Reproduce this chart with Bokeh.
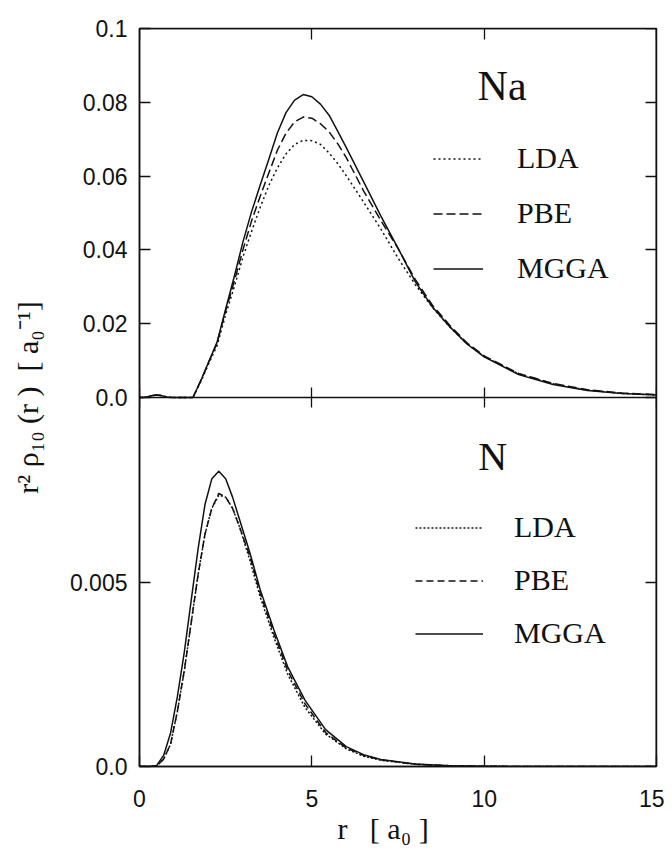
import numpy as np
from bokeh.plotting import figure
from bokeh.models import (Range1d, LinearAxis, FixedTicker, Legend, LegendItem,
                          Label, CustomJSTickFormatter)
from bokeh.embed import file_html
from bokeh.resources import INLINE

# ---------------- data ----------------
# Na panel: r^2 rho_10(r)
r_na = [0, 0.2, 0.35, 0.5, 0.65, 0.8, 1.0, 1.3, 1.55, 1.8, 2.0, 2.25, 2.5, 2.75,
        3.0, 3.25, 3.5, 3.75, 4.0, 4.25, 4.5, 4.75, 5.0, 5.25, 5.5, 5.75, 6.0,
        6.5, 7.0, 7.5, 8.0, 8.5, 9.0, 9.5, 10, 11, 12, 13, 14, 15]
na_mgga = [0, 0.0001, 0.0005, 0.0007, 0.0005, 0.0001, 0, 0, 0,
           0.0050, 0.0095, 0.0150, 0.0240, 0.0328, 0.0421, 0.0503, 0.0575, 0.0645, 0.0717,
           0.0772, 0.0806, 0.0821, 0.0815, 0.0795, 0.0765, 0.0722, 0.0677,
           0.0585, 0.0492, 0.0405, 0.0314, 0.0245, 0.0192, 0.0145, 0.0110,
           0.0062, 0.0035, 0.0019, 0.0011, 0.0007]
na_pbe = [0, 0.0001, 0.0005, 0.0007, 0.0005, 0.0001, 0, 0, 0,
          0.0050, 0.0094, 0.0147, 0.0235, 0.0315, 0.0400, 0.0478, 0.0545, 0.0608, 0.0670,
          0.0716, 0.0747, 0.0760, 0.0757, 0.0742, 0.0720, 0.0688, 0.0650,
          0.0560, 0.0480, 0.0404, 0.0320, 0.0250, 0.0196, 0.0148, 0.0113,
          0.0065, 0.0038, 0.0021, 0.0012, 0.0008]
na_lda = [0, 0.0001, 0.0005, 0.0007, 0.0005, 0.0001, 0, 0, 0,
          0.0047, 0.0090, 0.0140, 0.0225, 0.0300, 0.0380, 0.0450, 0.0515, 0.0574, 0.0622,
          0.0660, 0.0686, 0.0697, 0.0696, 0.0686, 0.0663, 0.0634, 0.0601,
          0.0530, 0.0457, 0.0378, 0.0306, 0.0244, 0.0191, 0.0146, 0.0111,
          0.0064, 0.0037, 0.0020, 0.0011, 0.0007]

# N panel
r_n = [0, 0.3, 0.5, 0.7, 0.9, 1.1, 1.3, 1.5, 1.7, 1.9, 2.1, 2.3, 2.5, 2.7, 2.9,
       3.2, 3.5, 3.9, 4.3, 4.8, 5.4, 6.0, 6.5, 7.0, 8.0, 9.0, 10, 12, 15]
n_mgga = [0, 0, 0.00003, 0.0003, 0.0009, 0.0019, 0.0031, 0.0045, 0.0059, 0.0071,
          0.0078, 0.0080, 0.0078, 0.0073, 0.0067, 0.0058, 0.0048, 0.0037, 0.0027,
          0.0018, 0.0010, 0.00054, 0.00032, 0.00019, 0.00007, 0.00002, 0.000005, 0, 0]
n_pbe = [0, 0, 0.00001, 0.0002, 0.0006, 0.0015, 0.0026, 0.0039, 0.0052, 0.0063,
         0.0070, 0.0074, 0.0073, 0.0070, 0.0065, 0.0057, 0.0047, 0.0036, 0.0026,
         0.0017, 0.00092, 0.0005, 0.0003, 0.00018, 0.00006, 0.00002, 0.000005, 0, 0]
n_lda = [0, 0, 0.00001, 0.0002, 0.0006, 0.0015, 0.0026, 0.0039, 0.0052, 0.0063,
         0.0070, 0.00735, 0.0073, 0.0070, 0.0065, 0.0056, 0.0046, 0.0035, 0.0025,
         0.0016, 0.00088, 0.00048, 0.00028, 0.00017, 0.00006, 0.00002, 0.000005, 0, 0]

series_names = ["LDA", "PBE", "MGGA"]
x_ticks = [0, 5, 10, 15]
na_ticks = [0, 0.02, 0.04, 0.06, 0.08, 0.1]
na_tick_labels = ["0.0", "0.02", "0.04", "0.06", "0.08", "0.1"]
n_ticks = [0, 0.005]
n_tick_labels = ["0.0", "0.005"]

# ---------------- figure ----------------
INK = "#111111"
SANS = "Liberation Sans"
SERIF = "Liberation Serif"
NB = "\u00a0"

# upper half of the main y range holds the Na panel; the "n" range puts N in the lower half
main_range = Range1d(-0.1, 0.1)
n_range = Range1d(0, 0.02)

p = figure(width=664, height=850, output_backend="svg", toolbar_location=None,
           x_range=Range1d(0, 15), y_range=main_range,
           x_axis_type=None, y_axis_type=None,
           min_border_left=139, min_border_right=8, min_border_top=28, min_border_bottom=84)
p.extra_y_ranges = {"n": n_range}
p.outline_line_color = INK
p.outline_line_width = 1.5
p.background_fill_color = "white"
p.border_fill_color = "white"

blank = CustomJSTickFormatter(code="return ''")


def style_axis(ax, tin=11, tout=0):
    ax.major_tick_in = tin
    ax.major_tick_out = tout
    ax.minor_tick_line_color = None
    ax.major_tick_line_color = INK
    ax.major_tick_line_width = 1.3
    ax.axis_line_color = INK
    ax.axis_line_width = 1.5
    ax.major_label_text_font = SANS
    ax.major_label_text_font_size = "23px"
    ax.major_label_text_color = INK


def n_to_main(v):
    return main_range.start + (v - n_range.start) / (n_range.end - n_range.start) * \
        (main_range.end - main_range.start)


# bottom x axis (labels + axis title)
xb = LinearAxis(ticker=FixedTicker(ticks=x_ticks))
style_axis(xb)
xb.major_label_standoff = 23
xb.axis_label = "r" + NB * 3 + "[" + NB + "a₀" + NB + "]" + NB * 4
xb.axis_label_text_font = SERIF
xb.axis_label_text_font_size = "30px"
xb.axis_label_text_font_style = "normal"
xb.axis_label_text_color = INK
xb.axis_label_standoff = 2
p.add_layout(xb, "below")

# boundary between panels: ticks both ways, no labels
xm = LinearAxis(ticker=FixedTicker(ticks=x_ticks), formatter=blank, fixed_location=0)
style_axis(xm, tin=10, tout=10)
p.add_layout(xm, "below")

# top axis
xt = LinearAxis(ticker=FixedTicker(ticks=x_ticks), formatter=blank, fixed_location=0.1)
style_axis(xt)
p.add_layout(xt, "above")

# left axis: Na ticks and the N ticks (taken through the n range)
left_ticks = na_ticks + [n_to_main(v) for v in n_ticks]
left_labels = na_tick_labels + n_tick_labels
yl = LinearAxis(ticker=FixedTicker(ticks=left_ticks),
                major_label_overrides=dict(zip(left_ticks, left_labels)))
style_axis(yl)
yl.major_label_standoff = 12
yl.axis_label = "r²" + NB + "ρ₁₀" + NB + "(r" + NB + ")" + NB * 2 + "[" + NB + "a₀⁻¹]"
yl.axis_label_text_font = SERIF
yl.axis_label_text_font_size = "30px"
yl.axis_label_text_font_style = "normal"
yl.axis_label_text_color = INK
yl.axis_label_standoff = 23
p.add_layout(yl, "left")

# right axes
yr_na = LinearAxis(ticker=FixedTicker(ticks=na_ticks), formatter=blank, fixed_location=15)
style_axis(yr_na)
p.add_layout(yr_na, "right")
yr_n = LinearAxis(ticker=FixedTicker(ticks=n_ticks), formatter=blank, y_range_name="n",
                  fixed_location=15)
style_axis(yr_n)
p.add_layout(yr_n, "right")

# ---------------- curves ----------------
dash_na = {"LDA": "2 3", "PBE": "9 4", "MGGA": "solid"}
dash_n = {"LDA": "2 2", "PBE": "7 4", "MGGA": "solid"}

na_vals = {"LDA": na_lda, "PBE": na_pbe, "MGGA": na_mgga}
n_vals = {"LDA": n_lda, "PBE": n_pbe, "MGGA": n_mgga}

na_items, n_items = [], []
for name in series_names:
    rr = p.line(r_na, na_vals[name], line_color=INK, line_width=1.5,
                line_dash=dash_na[name], line_join="round")
    na_items.append(LegendItem(label=name, renderers=[rr]))
    rn = p.line(r_n, n_vals[name], line_color=INK, line_width=1.5,
                line_dash=dash_n[name], line_join="round", y_range_name="n")
    n_items.append(LegendItem(label=name, renderers=[rn]))


def make_legend(items, loc, gw, standoff, spacing):
    return Legend(items=items, location=loc, orientation="vertical",
                  glyph_width=gw, glyph_height=35, label_height=35,
                  label_standoff=standoff, spacing=spacing, padding=0, margin=0,
                  border_line_color=None, background_fill_alpha=0,
                  label_text_font=SERIF, label_text_font_size="30px",
                  label_text_color=INK)


p.add_layout(make_legend(na_items, (294, 480.5), 50, 34, 20))
p.add_layout(make_legend(n_items, (276, 115.5), 68, 31, 18))

# panel titles
p.add_layout(Label(x=9.81, y=0.0844, text="Na", text_font=SERIF, text_font_size="42px",
                   text_color=INK, text_baseline="middle", text_align="left"))
p.add_layout(Label(x=9.83, y=0.0084, y_range_name="n", text="N", text_font=SERIF,
                   text_font_size="40px", text_color=INK, text_baseline="middle",
                   text_align="left"))

open("out.html", "w").write(file_html(p, INLINE))
